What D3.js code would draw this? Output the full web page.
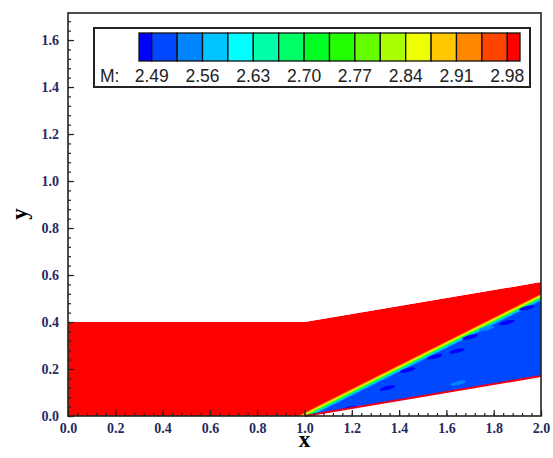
<!DOCTYPE html>
<html>
<head>
<meta charset="utf-8">
<script src="https://cdn.jsdelivr.net/npm/d3@7"></script>
<style>
	body { margin: 0; background: #fff; }
	.axis-title { font-family: 'Liberation Serif', 'Times New Roman', serif; font-weight: bold; font-size: 23px; fill: #000; }
	.legend-label { font-family: 'Liberation Sans', Arial, sans-serif; font-size: 17.5px; fill: #222; }
</style>
</head>
<body>
<svg id="svgMach" width="553" height="458"></svg>
<script>
const svg = d3.select('#svgMach');

const width = +svg.attr('width');
const height = +svg.attr('height');

//Contour levels of M and the colour of every band (below first level ... above last level)
const levels = [2.49, 2.525, 2.56, 2.595, 2.63, 2.665, 2.70, 2.735, 2.77, 2.805, 2.84, 2.875, 2.91, 2.945, 2.98];
const levelLabels = [2.49, 2.56, 2.63, 2.70, 2.77, 2.84, 2.91, 2.98];
const levelColors = ['#0000ff', '#0048ff', '#0084ff', '#00c4ff', '#00ffff', '#00ffaa', '#00ff66', '#00ff22',
	'#22ff00', '#66ff00', '#aaff00', '#eeff00', '#ffc800', '#ff8800', '#ff4400', '#ff0000'];

//Walls of the flow domain (x, y)
const upperWall = [[0, 0.4], [1.0, 0.4], [2.0, 0.57]];
const lowerWall = [[0, 0], [1.0, 0], [2.0, 0.17]];

//Oblique shock leaving the corner
const shockLine = [[1.0, 0], [2.0, 0.505]];

//M across the shock: vertical distance from the shock line and M value
const shockOffset = [0.014, 0.009, 0.004, -0.001, -0.006, -0.011];
const shockMach = [2.93, 2.86, 2.79, 2.68, 2.58, 2.54];

//M before the shock
const machUpstream = 3.0;

//Small pockets behind the shock (x, y, M)
const pocketX = [1.19, 1.35, 1.437, 1.55, 1.645, 1.70, 1.856, 1.94, 1.65, 1.77];
const pocketY = [0.032, 0.119, 0.196, 0.252, 0.277, 0.336, 0.398, 0.46, 0.14, 0.372];
const pocketMach = [2.48, 2.47, 2.47, 2.47, 2.47, 2.47, 2.46, 2.48, 2.54, 2.54];

//Axis ticks
const xTicks = [0, 0.2, 0.4, 0.6, 0.8, 1.0, 1.2, 1.4, 1.6, 1.8, 2.0];
const yTicks = [0, 0.2, 0.4, 0.6, 0.8, 1.0, 1.2, 1.4, 1.6];

const margin = { top: 13, right: 12, bottom: 42, left: 68 };
const innerWidth = width - margin.left - margin.right;
const innerHeight = height - margin.top - margin.bottom;

const xScale = d3.scaleLinear()
	.domain([0, 2])
	.range([0, innerWidth]);

const yScale = d3.scaleLinear()
	.domain([0, 1.715])
	.range([innerHeight, 0]);

const color = d3.scaleThreshold()
	.domain(levels)
	.range(levelColors);

const g = svg.append('g')
	.attr('transform', `translate(${margin.left},${margin.top})`);

const line = d3.line()
	.x(d => xScale(d[0]))
	.y(d => yScale(d[1]));

//Clip everything to the domain between the walls
const domainPoly = upperWall.concat(lowerWall.slice().reverse());
g.append('clipPath')
	.attr('id', 'domainClip')
	.append('path')
		.attr('d', line(domainPoly) + 'Z');

const field = g.append('g')
	.attr('clip-path', 'url(#domainClip)');

//Flow before the shock
field.append('path')
	.attr('d', line(domainPoly) + 'Z')
	.attr('fill', color(machUpstream));

//Bands of the shock, painted from the upstream side to the downstream side
const slope = (shockLine[1][1] - shockLine[0][1]) / (shockLine[1][0] - shockLine[0][0]);
const x0 = shockLine[0][0] - 0.3;
const x1 = shockLine[1][0] + 0.1;
const bandPoly = off => [
	[x0, shockLine[0][1] + off - 0.3 * slope],
	[x1, shockLine[1][1] + off + 0.1 * slope],
	[x1, -0.2],
	[x0, -0.2]
];

field.selectAll('.band').data(shockOffset)
	.enter().append('path')
		.attr('class', 'band')
		.attr('d', d => line(bandPoly(d)) + 'Z')
		.attr('fill', (d, i) => color(shockMach[i]));

//Main flow behind the shock
field.append('path')
	.attr('d', line(bandPoly(shockOffset[shockOffset.length - 1] - 0.004)) + 'Z')
	.attr('fill', color(2.51));

//Pockets behind the shock
field.selectAll('.pocket').data(pocketX)
	.enter().append('ellipse')
		.attr('class', 'pocket')
		.attr('cx', d => xScale(d))
		.attr('cy', (d, i) => yScale(pocketY[i]))
		.attr('rx', 8)
		.attr('ry', 2)
		.attr('transform', (d, i) => `rotate(-14, ${xScale(d)}, ${yScale(pocketY[i])})`)
		.attr('fill', (d, i) => color(pocketMach[i]));

//Red rim along the lower wall
g.append('path')
	.attr('d', line(lowerWall.slice(1)))
	.attr('fill', 'none')
	.attr('stroke', '#e8001a')
	.attr('stroke-width', 2);

//Axes with ticks pointing inward
const styleAxis = sel => {
	sel.select('.domain').remove();
	sel.selectAll('line').attr('stroke', '#222').attr('stroke-width', 1.2);
	sel.selectAll('text')
		.attr('fill', '#262a5e')
		.attr('font-family', "'Liberation Serif', 'Times New Roman', serif")
		.attr('font-weight', 'bold')
		.attr('font-size', 14);
};

const minorOnly = sel => {
	sel.select('.domain').remove();
	sel.selectAll('text').remove();
	sel.selectAll('line').attr('stroke', '#222').attr('stroke-width', 1.2);
};

const xMinor = d3.range(0, 51).map(i => i * 0.04);
const yMinor = d3.range(0, 43).map(i => i * 0.04);

g.append('g')
	.attr('transform', `translate(0,${innerHeight})`)
	.call(d3.axisBottom(xScale).tickValues(xMinor).tickSize(-3))
	.call(minorOnly);

g.append('g')
	.attr('transform', `translate(0,${innerHeight})`)
	.call(d3.axisBottom(xScale).tickValues(xTicks).tickSize(-6).tickPadding(7).tickFormat(d3.format('.1f')))
	.call(styleAxis);

g.append('g')
	.call(d3.axisLeft(yScale).tickValues(yMinor).tickSize(-3))
	.call(minorOnly);

g.append('g')
	.call(d3.axisLeft(yScale).tickValues(yTicks).tickSize(-6).tickPadding(9).tickFormat(d3.format('.1f')))
	.call(styleAxis);

//Frame
g.append('rect')
	.attr('width', innerWidth)
	.attr('height', innerHeight)
	.attr('fill', 'none')
	.attr('stroke', '#222')
	.attr('stroke-width', 1.6);

//Axis titles
svg.append('text')
	.attr('class', 'axis-title')
	.attr('x', margin.left + xScale(1.0))
	.attr('y', 447)
	.attr('text-anchor', 'middle')
	.text('x');

svg.append('text')
	.attr('class', 'axis-title')
	.attr('transform', `translate(27, ${margin.top + yScale(0.86)}) rotate(-90)`)
	.attr('text-anchor', 'middle')
	.text('y');

//Legend
const legend = svg.append('g');

legend.append('rect')
	.attr('x', 94)
	.attr('y', 28)
	.attr('width', 436)
	.attr('height', 59)
	.attr('fill', '#fff')
	.attr('stroke', '#222')
	.attr('stroke-width', 2);

const half = (levels[1] - levels[0]) / 2;
const legendScale = d3.scaleLinear()
	.domain([levels[0] - half, levels[levels.length - 1] + half])
	.range([139, 520]);

const cellEdges = [levels[0] - half].concat(levels, [levels[levels.length - 1] + half]);

legend.selectAll('.cell').data(levelColors)
	.enter().append('rect')
		.attr('class', 'cell')
		.attr('x', (d, i) => legendScale(cellEdges[i]))
		.attr('y', 33)
		.attr('width', (d, i) => legendScale(cellEdges[i + 1]) - legendScale(cellEdges[i]))
		.attr('height', 28)
		.attr('fill', d => d)
		.attr('stroke', '#111')
		.attr('stroke-width', 1.3);

legend.append('text')
	.attr('class', 'legend-label')
	.attr('x', 100)
	.attr('y', 82)
	.text('M:');

legend.selectAll('.level').data(levelLabels)
	.enter().append('text')
		.attr('class', 'legend-label')
		.attr('x', d => legendScale(d))
		.attr('y', 82)
		.attr('text-anchor', 'middle')
		.text(d => d.toFixed(2));
</script>
</body>
</html>
